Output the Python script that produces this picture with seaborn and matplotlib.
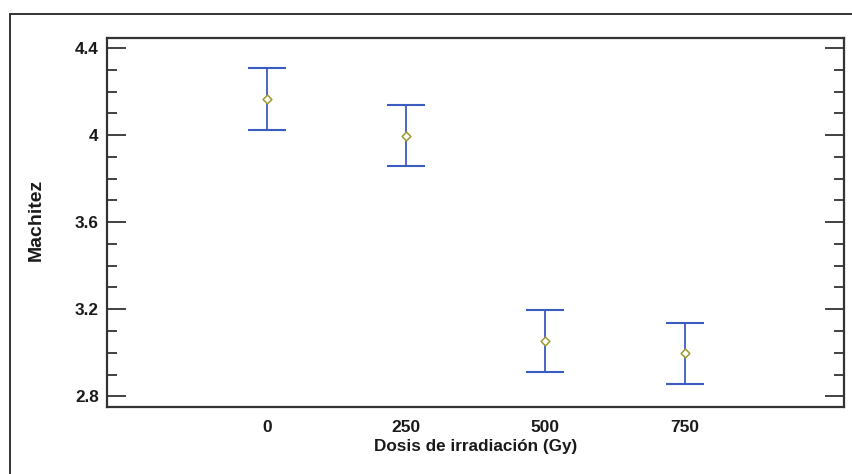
import matplotlib
matplotlib.use("Agg")
import matplotlib.pyplot as plt
import seaborn as sns
import pandas as pd
from matplotlib.patches import Rectangle
from matplotlib.ticker import MultipleLocator

# Mean firmness and interval limits for each irradiation dose
dosis = [0, 250, 500, 750]
media = [4.166, 3.998, 3.052, 2.999]
limite_inf = [4.023, 3.857, 2.913, 2.857]
limite_sup = [4.308, 4.138, 3.196, 3.139]
xticks = [0, 250, 500, 750]
yticks = [2.8, 3.2, 3.6, 4.0, 4.4]
ytick_labels = ["2.8", "3.2", "3.6", "4", "4.4"]

sns.set_theme(style="white")
plt.rcParams["font.family"] = ["Liberation Sans", "DejaVu Sans"]

df = pd.DataFrame({"dosis": dosis, "media": media,
                   "inf": limite_inf, "sup": limite_sup})

fig = plt.figure(figsize=(8.52, 4.74), dpi=100)
ax = fig.add_axes([107 / 852, 1 - 407 / 474, (844 - 107) / 852, (407 - 38) / 474])

# Outer frame around the whole panel
fig.patches.append(Rectangle((10 / 852, -0.05), 1.1, 1 - 14 / 474 + 0.05,
                             transform=fig.transFigure, fill=False,
                             edgecolor="#333333", linewidth=1.4, zorder=0))

err_lo = df["media"] - df["inf"]
err_hi = df["sup"] - df["media"]
ax.errorbar(df["dosis"], df["media"], yerr=[err_lo, err_hi], fmt="none",
            ecolor="#3a5bbf", elinewidth=1.3, capsize=14, capthick=1.5, zorder=2)
sns.scatterplot(data=df, x="dosis", y="media", ax=ax, marker="D", s=20,
                facecolor="white", edgecolor="#9a9a30", linewidth=1.1, zorder=3)

ax.set_xlim(-287, 1036)
ax.set_ylim(2.751, 4.446)
ax.set_xticks(xticks)
ax.set_xticklabels([str(v) for v in xticks], fontsize=12.5, fontweight="bold")
ax.set_yticks(yticks)
ax.set_yticklabels(ytick_labels, fontsize=12.3, fontweight="bold")
ax.yaxis.set_minor_locator(MultipleLocator(0.1))

ax.tick_params(axis="x", which="both", length=0, pad=9, colors="#1a1a1a")
ax.tick_params(axis="y", which="major", direction="in", length=14, width=1.3,
               left=True, right=True, colors="#333333", labelcolor="#1a1a1a", pad=6)
ax.tick_params(axis="y", which="minor", direction="in", length=7, width=1.3,
               left=True, right=True, colors="#333333")

for s in ax.spines.values():
    s.set_visible(True)
    s.set_color("#333333")
    s.set_linewidth(1.6)

ax.set_xlabel("Dosis de irradiación (Gy)", fontsize=12.3, fontweight="bold",
              color="#1a1a1a", labelpad=3)
ax.set_ylabel("Machitez", fontsize=14, fontweight="bold", color="#1a1a1a")
ax.yaxis.set_label_coords((45 - 107) / 737, 0.507)

fig.savefig("out.png", dpi=100, facecolor="white")
